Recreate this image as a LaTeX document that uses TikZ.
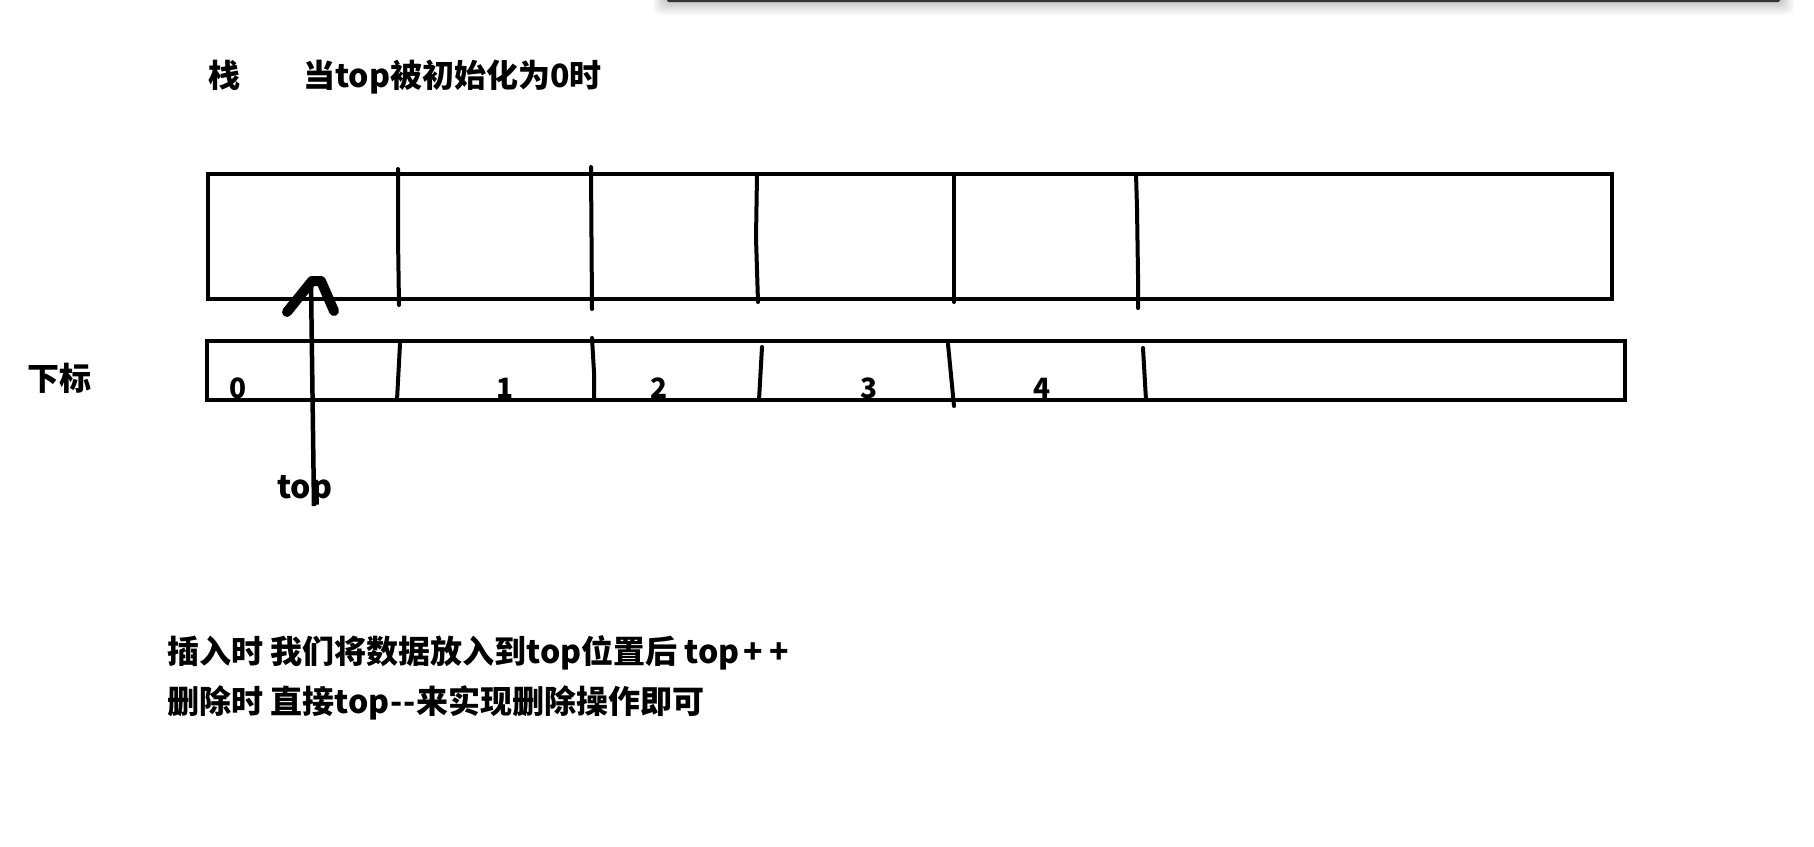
\documentclass[tikz,border=0pt]{standalone}
\usepackage{fontspec}
\setmainfont{Noto Sans CJK SC}
\begin{document}
\begin{tikzpicture}[x=1pt,y=-1pt,
  lbl/.style={inner sep=0pt, anchor=base west, font=\fontsize{32}{38}\selectfont\bfseries},
  ttl/.style={inner sep=0pt, anchor=base west, font=\fontsize{32}{38}\selectfont\bfseries},
  digit/.style={inner sep=0pt, anchor=base, font=\fontsize{28}{34}\selectfont\bfseries},
  boxline/.style={line width=4pt},
  cellline/.style={line width=4pt, line cap=round},
  pointer/.style={line width=4.5pt},
  pointerhead/.style={line width=10pt, line cap=round, line join=round}]
\useasboundingbox (0,0) rectangle (1814,846);
\fill[white] (0,0) rectangle (1814,846);
% window edge with shadow at the top
\foreach \i in {1,...,14} {
  \fill[black, opacity=0.016, rounded corners=6pt] (667-\i,-20) rectangle (1780+\i,1+\i);
}
\fill[black!80, rounded corners=2pt] (667,-6) rectangle (1780,2);
% titles
\node[ttl] (zhan) at (208,87) {栈};
\node[ttl] (when) at (303,87) {当top被初始化为0时};
% stack box
\coordinate (stackNW) at (208,174);
\coordinate (stackSE) at (1612,299);
\draw[boxline] (stackNW) rectangle (stackSE);
\draw[cellline] (398,169) -- (398,238) -- (399,305);
\draw[cellline] (591,167) -- (592,309);
\draw[cellline] (757,174) -- (756,238) -- (758,302);
\draw[cellline] (954,174) -- (954,302);
\draw[cellline] (1136,174) -- (1137,208) -- (1138,275) -- (1138,308);
% index box
\node[lbl] (idx) at (27,390) {下标};
\coordinate (indexNW) at (207,341);
\coordinate (indexSE) at (1625,400);
\draw[boxline] (indexNW) rectangle (indexSE);
\draw[cellline] (400,344) -- (397,400);
\draw[cellline] (592,338) -- (594,372) -- (594,400);
\draw[cellline] (762,347) -- (759,400);
\draw[cellline] (948,344) -- (954,406);
\draw[cellline] (1143,348) -- (1146,400);
\node[digit] (d0) at (238,398) {0};
\node[digit] (d1) at (505,398) {1};
\node[digit] (d2) at (659,398) {2};
\node[digit] (d3) at (869,398) {3};
\node[digit] (d4) at (1042,398) {4};
% top pointer
\node[lbl] (toplbl) at (277,498) {top};
\coordinate (ptail) at (314,506);
\coordinate (phead) at (311,282);
\draw[pointer] (ptail) -- (phead);
\draw[pointerhead] (287,312) -- (312,281) -- (321,281) -- (334,311);
% explanation
\node[lbl] (ins) at (167,663) {插入时 我们将数据放入到top位置后 top\kern4pt+\kern6pt+};
\node[lbl] (del) at (167,713) {删除时 直接top\kern1pt-\kern1pt-\kern1pt来实现删除操作即可};
\end{tikzpicture}
\end{document}
